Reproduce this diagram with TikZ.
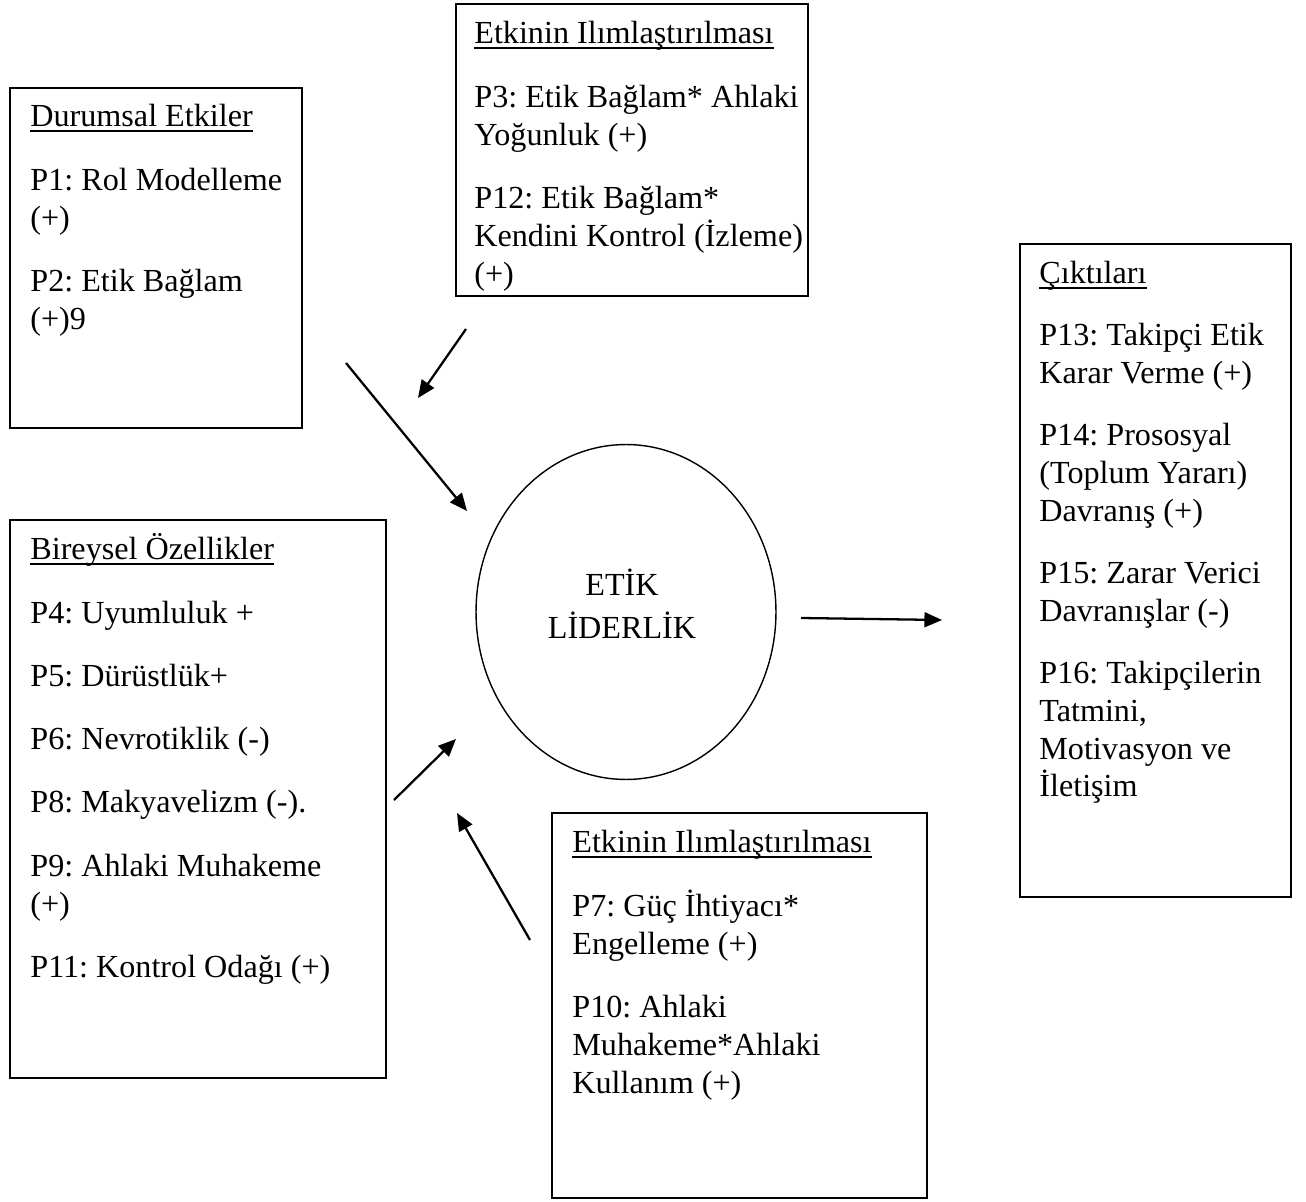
\documentclass[tikz,border=0pt]{standalone}
\usepackage{fontspec}
\setmainfont{Liberation Serif}
\usetikzlibrary{arrows.meta,positioning,shapes.geometric,fit,calc}
\frenchspacing

\newsavebox\headbox
\newcommand{\headul}[1]{\sbox\headbox{#1}\rlap{\rule[-2.6pt]{\wd\headbox}{0.9pt}}\usebox\headbox}

\begin{document}
\begin{tikzpicture}[x=0.02cm, y=-0.02cm,
  box/.style={draw, line width=1.1pt, inner sep=0pt},
  boxtext/.style={anchor=north west, inner sep=0pt, align=left,
              font=\fontsize{18.3}{21.6}\selectfont},
  arr/.style={line width=1.3pt, -{Triangle[length=10pt, width=8.5pt]}}
]
  \useasboundingbox (0,0) rectangle (1306,1202);

  \node[box, fit={(10,88) (302,428)}]     (durum)  {};
  \node[box, fit={(456,4) (808,296)}]     (ilimU)  {};
  \node[box, fit={(1020,244) (1291,897)}] (cikti)  {};
  \node[box, fit={(10,520) (386,1078)}]   (birey)  {};
  \node[box, fit={(552,813) (927,1198)}]  (ilimA)  {};

  \node[draw, ellipse, line width=0.8pt, minimum width=6cm, minimum height=6.7cm]
    (etik) at (626,612) {};
  \node[align=center, inner sep=0pt, font=\fontsize{18.3}{21.6}\selectfont]
    (etikT) at (622,604) {ETİK\\[3pt]LİDERLİK};

  \node[boxtext] (durumT) at ($(durum.north west)+(21,13)$)
    {\strut\headul{Durumsal Etkiler}\\[14.4pt]
     P1: Rol Modelleme\\ (+)\\[14.4pt]
     P2: Etik Bağlam\\ (+)9};
  \node[boxtext] (ilimUT) at ($(ilimU.north west)+(19,14)$)
    {\strut\headul{Etkinin Ilımlaştırılması}\\[14.4pt]
     P3: Etik Bağlam* Ahlaki\\ Yoğunluk (+)\\[14.4pt]
     P12: Etik Bağlam*\\ Kendini Kontrol (İzleme)\\ (+)};
  \node[boxtext] (ciktiT) at ($(cikti.north west)+(20,14)$)
    {\strut\headul{Çıktıları}\\[13.6pt]
     P13: Takipçi Etik\\ Karar Verme (+)\\[13.6pt]
     P14: Prososyal\\ (Toplum Yararı)\\ Davranış (+)\\[13.6pt]
     P15: Zarar Verici\\ Davranışlar (-)\\[13.6pt]
     P16: Takipçilerin\\ Tatmini,\\ Motivasyon ve\\ İletişim};
  \node[boxtext] (bireyT) at ($(birey.north west)+(21,14)$)
    {\strut\headul{Bireysel Özellikler}\\[14.4pt]
     P4: Uyumluluk +\\[14.4pt]
     P5: Dürüstlük+\\[14.4pt]
     P6: Nevrotiklik (-)\\[14.4pt]
     P8: Makyavelizm (-).\\[14.4pt]
     P9: Ahlaki Muhakeme\\ (+)\\[14.4pt]
     P11: Kontrol Odağı (+)};
  \node[boxtext] (ilimAT) at ($(ilimA.north west)+(21,14)$)
    {\strut\headul{Etkinin Ilımlaştırılması}\\[14.4pt]
     P7: Güç İhtiyacı*\\ Engelleme (+)\\[14.4pt]
     P10: Ahlaki\\ Muhakeme*Ahlaki\\ Kullanım (+)};

  \coordinate (durumOut) at (346,363);
  \coordinate (durumIn)  at (467,511);
  \coordinate (ilimUOut) at (466,329);
  \coordinate (ilimUIn)  at (418,398);
  \coordinate (bireyOut) at (394,800);
  \coordinate (bireyIn)  at (456,739);
  \coordinate (ilimAOut) at (530,940);
  \coordinate (ilimAIn)  at (457,813);
  \coordinate (etikOut)  at (801,618);
  \coordinate (ciktiIn)  at (942,620);

  \draw[arr] (durumOut) -- (durumIn);
  \draw[arr] (ilimUOut) -- (ilimUIn);
  \draw[arr] (bireyOut) -- (bireyIn);
  \draw[arr] (ilimAOut) -- (ilimAIn);
  \draw[arr] (etikOut) -- (ciktiIn);
\end{tikzpicture}
\end{document}
